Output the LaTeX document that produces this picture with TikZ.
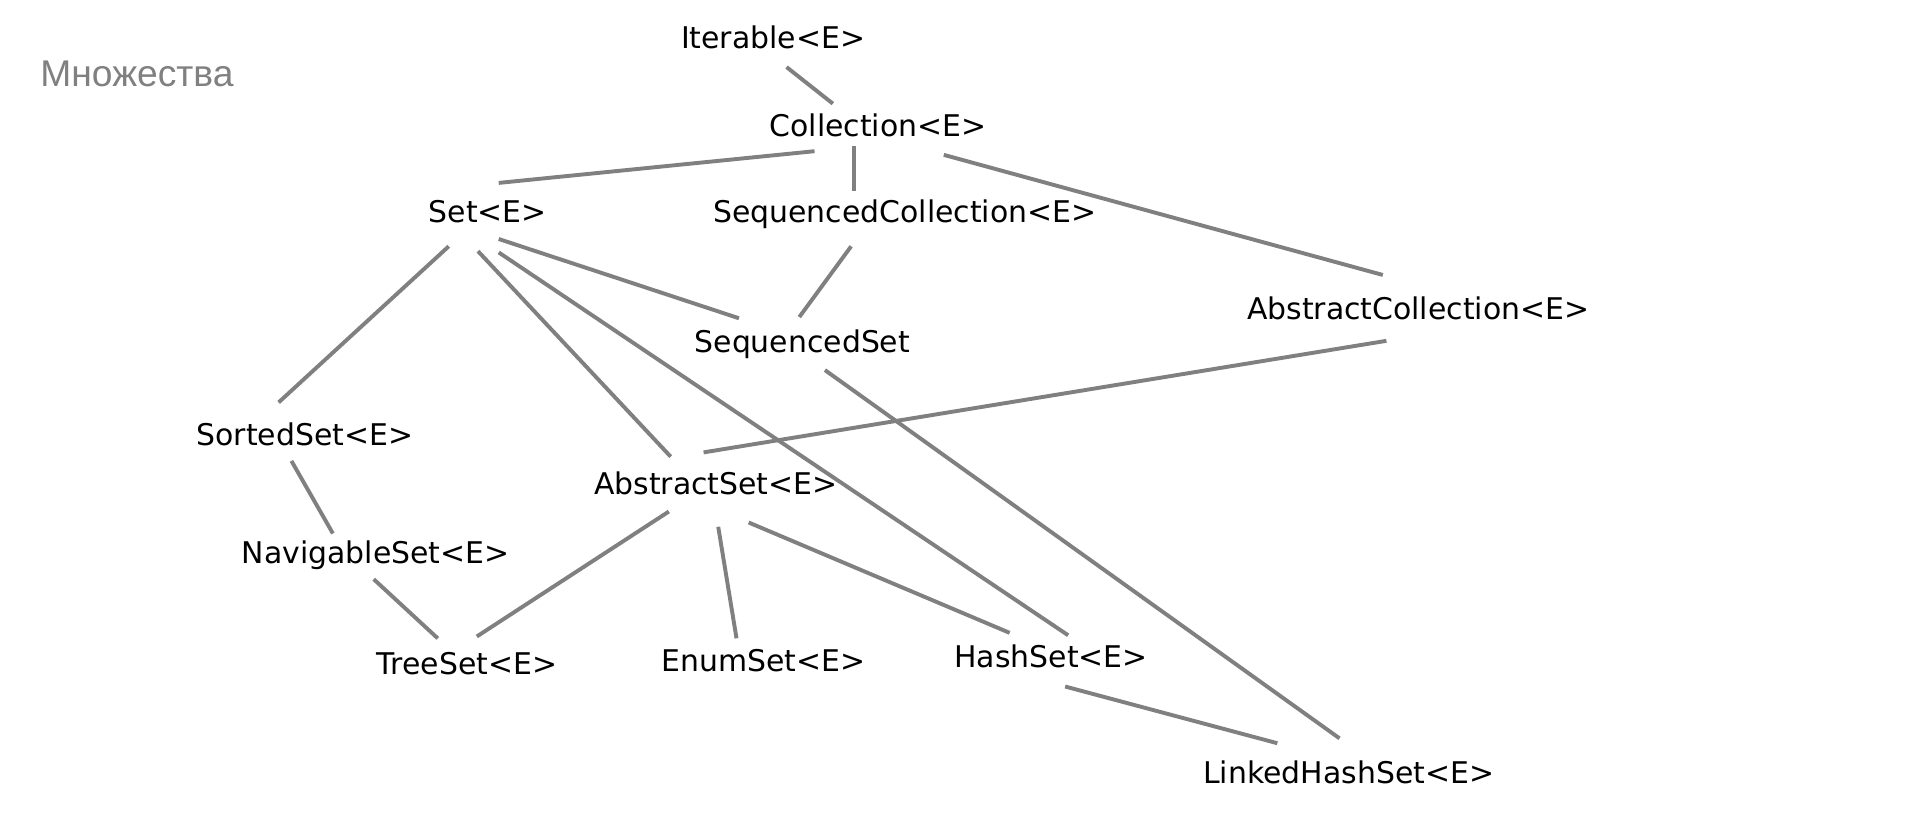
\documentclass[tikz,border=0pt]{standalone}
\usepackage{fontspec}
\setmainfont{DejaVu Sans}
\newfontfamily\titlefont{Liberation Sans}
\definecolor{linegray}{RGB}{128,128,128}
\begin{document}
\begin{tikzpicture}[x=1pt,y=-1pt,
  lbl/.style={inner sep=0pt, outer sep=0pt, text height=17.5pt, text depth=0pt,
              font=\fontsize{24.5}{28}\selectfont, text=black, anchor=center},
  conn/.style={draw=linegray, line width=3.2pt}]
\useasboundingbox (0,0) rectangle (1568,676);
\fill[white] (0,0) rectangle (1568,676);

\node[inner sep=0pt, anchor=base west, font=\titlefont\fontsize{30.5}{34}\selectfont, text=linegray] (title) at (33,71) {Множества};

\node[lbl] (it)     at (634,31)  {Iterable<E>};
\node[lbl] (coll)   at (720,103) {Collection<E>};
\node[lbl] (set)    at (400,174) {Set<E>};
\node[lbl] (seqc)   at (742,174) {SequencedCollection<E>};
\node[lbl] (absc)   at (1163,253) {AbstractCollection<E>};
\node[lbl] (seqs)   at (658,280) {SequencedSet};
\node[lbl] (sorted) at (250,357) {SortedSet<E>};
\node[lbl] (abss)   at (587,397) {AbstractSet<E>};
\node[lbl] (nav)    at (308,453) {NavigableSet<E>};
\node[lbl] (tree)   at (383,544) {TreeSet<E>};
\node[lbl] (enum)   at (626,542) {EnumSet<E>};
\node[lbl] (hash)   at (862,539) {HashSet<E>};
\node[lbl] (lhs)    at (1106,634) {LinkedHashSet<E>};

\draw[conn] ([shift={(11,24)}]it.center) -- ([shift={(-37,-18)}]coll.center);
\draw[conn] ([shift={(-52,21)}]coll.center) -- ([shift={(9,-24)}]set.center);
\draw[conn] ([shift={(-20,17)}]coll.center) -- ([shift={(-42,-17)}]seqc.center);
\draw[conn] ([shift={(54,24)}]coll.center) -- ([shift={(-29,-27.5)}]absc.center);
\draw[conn] ([shift={(-44,28)}]seqc.center) -- ([shift={(-2.5,-20)}]seqs.center);
\draw[conn] ([shift={(-32,28)}]set.center) -- ([shift={(-21.5,-27)}]sorted.center);
\draw[conn] ([shift={(-8,32)}]set.center) -- ([shift={(-37,-22.5)}]abss.center);
\draw[conn] ([shift={(9,33)}]set.center) -- ([shift={(14,-18)}]hash.center);
\draw[conn] ([shift={(9,22)}]set.center) -- ([shift={(-52,-19)}]seqs.center);
\draw[conn] ([shift={(18.5,23.5)}]seqs.center) -- ([shift={(-7.5,-28.5)}]lhs.center);
\draw[conn] ([shift={(-26,26.5)}]absc.center) -- ([shift={(-10,-26)}]abss.center);
\draw[conn] ([shift={(-11,21)}]sorted.center) -- ([shift={(-35,-15.5)}]nav.center);
\draw[conn] ([shift={(-1.5,22)}]nav.center) -- ([shift={(-24,-20.5)}]tree.center);
\draw[conn] ([shift={(-38.5,22.5)}]abss.center) -- ([shift={(8,-22)}]tree.center);
\draw[conn] ([shift={(2,35)}]abss.center) -- ([shift={(-22,-18.5)}]enum.center);
\draw[conn] ([shift={(27,31.5)}]abss.center) -- ([shift={(-34,-20)}]hash.center);
\draw[conn] ([shift={(11.5,24)}]hash.center) -- ([shift={(-58.5,-24.5)}]lhs.center);
\end{tikzpicture}
\end{document}
